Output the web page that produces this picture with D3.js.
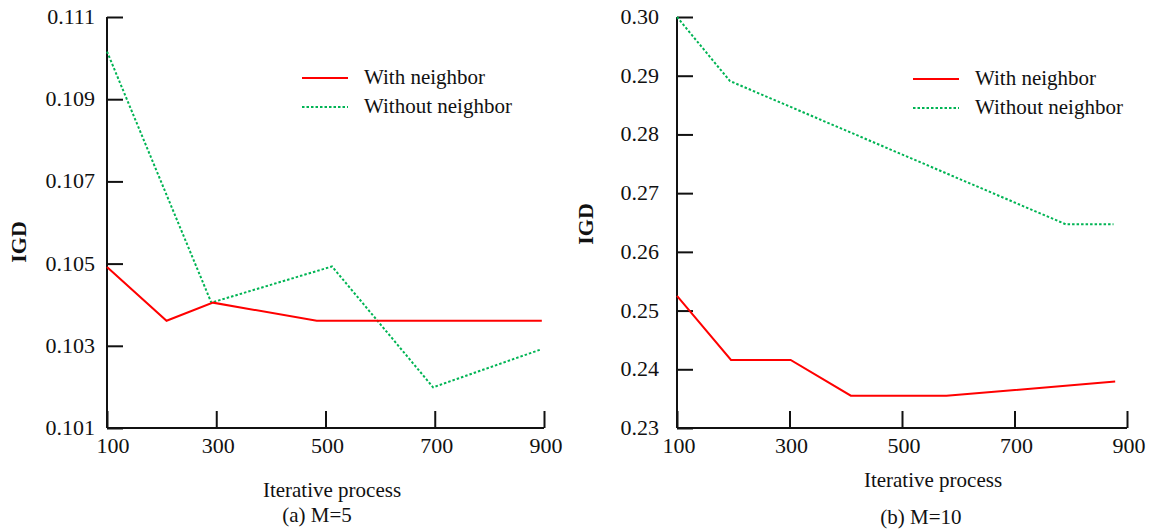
<!DOCTYPE html>
<html>
<head>
<meta charset="utf-8">
<script src="https://cdn.jsdelivr.net/npm/d3@7"></script>
<style>
  body { margin: 0; background: #fff; }
</style>
</head>
<body>
<div id="chart"></div>
<script>
// values
const xTicks = [100, 300, 500, 700, 900];

const leftYTicks = [0.101, 0.103, 0.105, 0.107, 0.109, 0.111];
const leftWithX = [100, 209, 294, 484, 896];
const leftWithY = [0.10492, 0.10361, 0.10405, 0.10361, 0.10361];
const leftWithoutX = [100, 291, 512, 697, 894];
const leftWithoutY = [0.11016, 0.10405, 0.10493, 0.10199, 0.10291];

const rightYTicks = [0.23, 0.24, 0.25, 0.26, 0.27, 0.28, 0.29, 0.30];
const rightWithX = [100, 196, 302, 409, 579, 879];
const rightWithY = [0.2525, 0.2416, 0.2416, 0.2355, 0.2355, 0.2379];
const rightWithoutX = [100, 194, 791, 876];
const rightWithoutY = [0.300, 0.2891, 0.2647, 0.2647];

const seriesNames = ["With neighbor", "Without neighbor"];
const captions = ["(a) M=5", "(b) M=10"];

const FONT = "'Liberation Serif', 'Times New Roman', Times, serif";
const W = 1151, H = 529;
const svg = d3.select("#chart").append("svg")
    .attr("width", W)
    .attr("height", H)
    .attr("font-family", FONT);

function addText(g, size) {
    return g.append("text")
        .attr("font-family", FONT)
        .attr("fill", "#111")
        .style("font-size", size + "px");
}

function drawPanel(p) {
    let x = d3.scaleLinear().domain([100, 900]).range([p.left, p.right]);
    let y = d3.scaleLinear().domain(d3.extent(p.yTicks)).range([428, 17]);
    let g = svg.append("g");

    // x axis, ticks pointing up into the plot
    let xAxis = d3.axisBottom(x).tickValues(xTicks).tickSize(-17).tickFormat("");
    g.append("g").attr("transform", "translate(0,428)").call(xAxis)
        .call(a => a.select(".domain").attr("d", `M${p.left},0H${p.right}`));

    // y axis, ticks pointing right
    let yAxis = d3.axisLeft(y).tickValues(p.yTicks).tickSize(-16).tickFormat("");
    g.append("g").attr("transform", `translate(${p.left},0)`).call(yAxis)
        .call(a => a.select(".domain").attr("d", "M0,17V428"));

    g.selectAll(".domain, .tick line").attr("stroke", "#111").attr("stroke-width", 2);

    // tick labels
    xTicks.forEach((d, i) => {
        addText(g, 22)
            .attr("x", x(d) + (i === 0 ? p.firstShift : 2))
            .attr("y", 453)
            .attr("text-anchor", "middle")
            .text(d);
    });
    p.yTicks.forEach(d => {
        addText(g, 22)
            .attr("x", p.left - p.labelGap)
            .attr("y", y(d) + 7)
            .attr("text-anchor", "end")
            .text(d3.format(p.fmt)(d));
    });

    // lines
    let line = d3.line().x(d => x(d[0])).y(d => y(d[1]));
    g.append("path")
        .datum(d3.zip(p.withoutX, p.withoutY))
        .attr("d", line)
        .attr("fill", "none")
        .attr("stroke", "#00b454")
        .attr("stroke-width", 2)
        .attr("stroke-dasharray", "2.5,2");
    g.append("path")
        .datum(d3.zip(p.withX, p.withY))
        .attr("d", line)
        .attr("fill", "none")
        .attr("stroke", "#ff0000")
        .attr("stroke-width", 2);

    // legend
    let lg = g.append("g").attr("transform", `translate(${p.legX},${p.legY})`);
    seriesNames.forEach((name, i) => {
        lg.append("line")
            .attr("x1", 0).attr("x2", 46)
            .attr("y1", i * 29).attr("y2", i * 29)
            .attr("stroke", i === 0 ? "#ff0000" : "#00b454")
            .attr("stroke-width", 2)
            .attr("stroke-dasharray", i === 0 ? null : "2.5,2");
        addText(lg, 21)
            .attr("x", 62).attr("y", i * 29 + 6)
            .text(name);
    });

    // axis titles
    addText(g, 22)
        .attr("transform", `translate(${p.igdX},${p.igdY}) rotate(-90)`)
        .attr("text-anchor", "middle")
        .style("font-weight", "bold")
        .text("IGD");
    addText(g, 21)
        .attr("x", p.titleX).attr("y", p.titleY)
        .attr("text-anchor", "middle")
        .text("Iterative process");
    addText(g, 21)
        .attr("x", p.capX).attr("y", p.capY)
        .attr("text-anchor", "middle")
        .text(p.caption);
}

drawPanel({
    left: 107, right: 544, yTicks: leftYTicks, fmt: ".3f", labelGap: 12, firstShift: 6,
    withX: leftWithX, withY: leftWithY, withoutX: leftWithoutX, withoutY: leftWithoutY,
    legX: 302, legY: 78, igdX: 26, igdY: 242,
    titleX: 332, titleY: 497, capX: 317, capY: 522, caption: captions[0]
});

drawPanel({
    left: 677, right: 1127, yTicks: rightYTicks, fmt: ".2f", labelGap: 18, firstShift: 2,
    withX: rightWithX, withY: rightWithY, withoutX: rightWithoutX, withoutY: rightWithoutY,
    legX: 913, legY: 79, igdX: 593, igdY: 224,
    titleX: 933, titleY: 487, capX: 921, capY: 524, caption: captions[1]
});
</script>
</body>
</html>
